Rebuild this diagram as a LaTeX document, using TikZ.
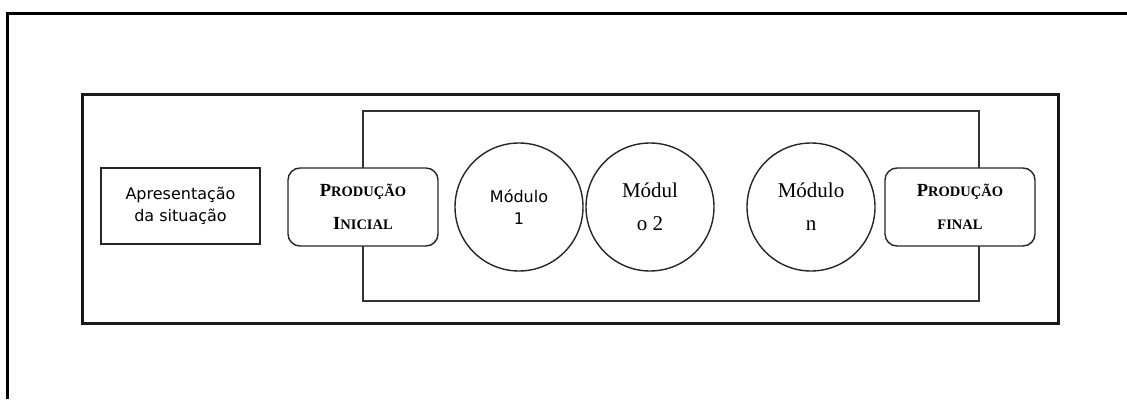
\documentclass[tikz,border=0pt]{standalone}
\usepackage{fontspec}
\setmainfont{Liberation Serif}
\newfontfamily\sansf{DejaVu Sans}
\newcommand{\bigsc}{\fontsize{18.5}{33}\selectfont}
\newcommand{\smsc}{\fontsize{14.5}{33}\selectfont}
\begin{document}
\begin{tikzpicture}[x=1pt,y=-1pt,
  plainbox/.style={draw=black!85,line width=1.4pt,rectangle,minimum width=159pt,minimum height=76pt,inner sep=0pt,align=center,fill=white},
  prodbox/.style={draw=black!85,line width=1.4pt,rectangle,rounded corners=12pt,minimum width=150pt,minimum height=78pt,inner sep=0pt,align=center,fill=white,font=\bfseries\fontsize{18.5}{33}\selectfont},
  modcirc/.style={draw=black!85,line width=1.4pt,circle,minimum size=128pt,inner sep=0pt,align=center},
  sanstxt/.style={font=\sansf\fontsize{16}{22}\selectfont},
  seriftxt/.style={font=\fontsize{21}{33}\selectfont}]
\useasboundingbox (0,0) rectangle (1127,399);
% outer frame (cropped)
\coordinate (fa) at (7,399);
\coordinate (fb) at (7,13);
\coordinate (fc) at (1127,13);
\draw[line width=3pt] (fa) -- (fb) -- (fc);
% main rectangle
\coordinate (m1) at (82,94);
\coordinate (m2) at (1058,323);
\draw[line width=3pt, black!90] (m1) rectangle (m2);
% inner thin rectangle
\coordinate (i1) at (363,111);
\coordinate (i2) at (979,301);
\draw[line width=1.1pt, black!80] (i1) rectangle (i2);
% nodes
\node[plainbox,sanstxt] (apr) at (180.5,206) {Apresentação\\da situação};
\node[prodbox] (pi) at (363,207) {\bigsc P\smsc RODUÇÃO\\\bigsc I\smsc NICIAL};
\node[modcirc,sanstxt] (m1c) at (519,207) {Módulo\\1};
\node[modcirc,seriftxt] (m2c) at (650,207) {Módul\\o 2};
\node[modcirc,seriftxt] (mnc) at (811,207) {Módulo\\n};
\node[prodbox] (pf) at (960,207) {\bigsc P\smsc RODUÇÃO\\\smsc FINAL};
\end{tikzpicture}
\end{document}
